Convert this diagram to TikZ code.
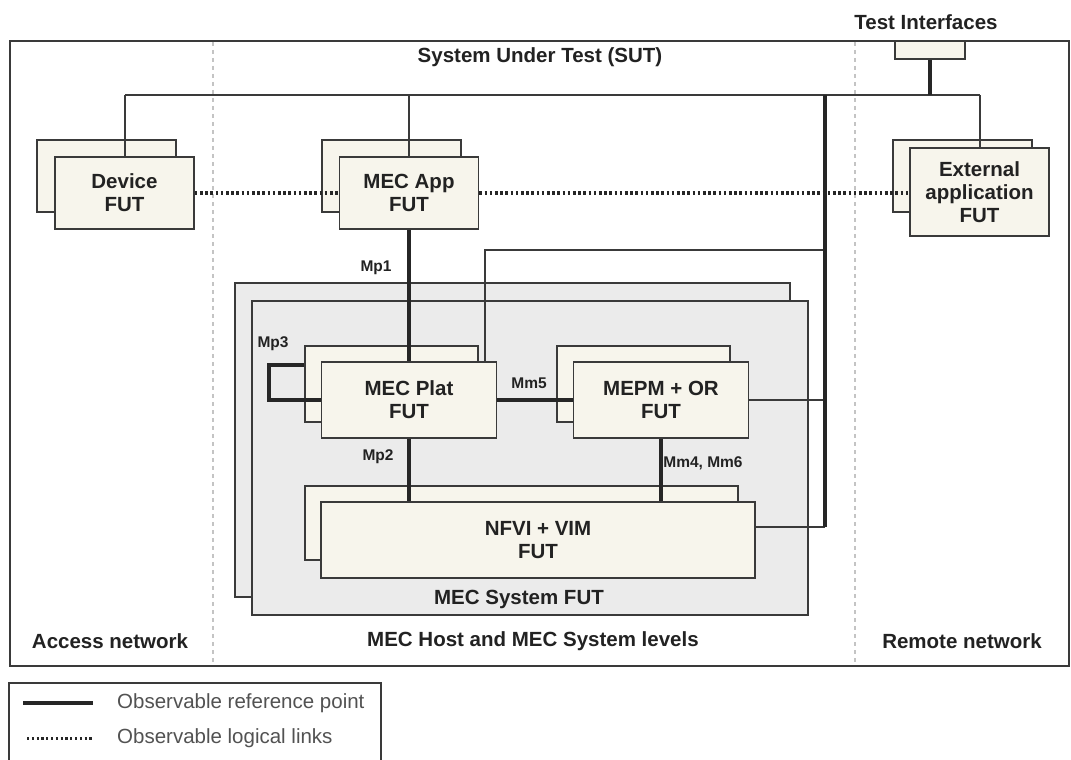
\documentclass[tikz,border=0pt]{standalone}
\usepackage{fontspec}
\setmainfont{Liberation Sans}
\definecolor{ln}{HTML}{3A3A3A}
\definecolor{cream}{HTML}{F7F5EC}
\definecolor{sysgray}{HTML}{EBEBEB}
\definecolor{dashgray}{HTML}{C4C4C4}
\definecolor{txt}{HTML}{222222}
\begin{document}
\begin{tikzpicture}[x=1pt,y=-1pt,
  box/.style={draw=ln,line width=1.7pt,fill=cream,inner sep=0pt,align=center,text=txt,font=\fontsize{20.5}{23}\selectfont\bfseries},
  sysbox/.style={draw=ln,line width=1.7pt,fill=sysgray,inner sep=0pt},
  thin/.style={draw=ln,line width=1.7pt},
  thick/.style={draw=black!85,line width=3.2pt},
  dotline/.style={draw=black!85,line width=3.4pt,dash pattern=on 2.6pt off 2.6pt},
  sep/.style={draw=dashgray,line width=1.5pt,dash pattern=on 4pt off 4pt},
  lbl/.style={text=txt,font=\fontsize{20.5}{23}\selectfont\bfseries,inner sep=0pt},
  small/.style={text=txt,font=\fontsize{15.5}{18}\selectfont\bfseries,inner sep=0pt},
  leg/.style={text=black!68,font=\fontsize{20.5}{23}\selectfont,inner sep=0pt,anchor=west}]
\useasboundingbox (0,0) rectangle (1071,760);
\fill[white] (0,0) rectangle (1071,760);
% outer SUT box
\node[draw=ln,line width=1.7pt,minimum width=1059pt,minimum height=625pt,inner sep=0pt] (sut) at (539.5,353.5) {};
\draw[sep] (213,42) -- (213,665);
\draw[sep] (855,42) -- (855,665);
\node[lbl] (sutlbl) at (540,57) {System Under Test (SUT)};
\node[lbl] (tilbl) at (926,22) {Test Interfaces};
\node[box,minimum width=70pt,minimum height=18pt] (ti) at (930,50) {};
% bus
\coordinate (busL) at (125,95);
\coordinate (busR) at (980,95);
\coordinate (busV) at (825,95);
\coordinate (nv) at (825,527);
\coordinate (up) at (825,250);
% Device
\node[box,minimum width=139pt,minimum height=72pt] (devb) at (106.5,176) {};
\node[box,minimum width=139pt,minimum height=72pt] (devf) at (124.5,193) {Device\\FUT};
% MEC App
\node[box,minimum width=139pt,minimum height=72pt] (appb) at (391.5,176) {};
\node[box,minimum width=139pt,minimum height=72pt] (appf) at (409,193) {MEC App\\FUT};
% External
\node[box,minimum width=139pt,minimum height=72pt] (extb) at (962.5,176) {};
\node[box,minimum width=139pt,minimum height=88pt] (extf) at (979.5,192) {External\\application\\FUT};
% bus lines
\draw[thin] (busL) -- (busR);
\draw[thin] (busL) -- (devf.north -| busL);
\draw[thin] (appf.north) -- (appf.north |- busL);
\draw[thin] (busR) -- (extf.north -| busR);
\draw[thick] (ti.south) -- (ti.south |- busR);
% dotted logical links
\draw[dotline] (devf.east |- 0,193) -- (appf.west |- 0,193);
\draw[dotline] (appf.east |- 0,193) -- (extf.west |- 0,193);
% MEC System
\node[sysbox,minimum width=555pt,minimum height=314pt] (sysb) at (512.5,440) {};
\node[sysbox,minimum width=556pt,minimum height=314pt] (sysf) at (530,458) {};
\node[lbl] (syslbl) at (519,599) {MEC System FUT};
% MEC Plat
\node[box,minimum width=173pt,minimum height=76pt] (platb) at (391.5,384) {};
\node[box,minimum width=175pt,minimum height=76pt] (platf) at (409,400) {MEC Plat\\FUT};
% MEPM
\node[box,minimum width=173pt,minimum height=76pt] (mepmb) at (643.5,384) {};
\node[box,minimum width=175pt,minimum height=76pt] (mepmf) at (661,400) {MEPM + OR\\FUT};
% NFVI
\node[box,minimum width=433pt,minimum height=74pt] (nfvib) at (521.5,523) {};
\node[box,minimum width=434pt,minimum height=76pt] (nfvif) at (538,540) {NFVI + VIM\\FUT};
% connectors
\draw[thick] (appf.south) -- (appf.south |- platf.north);
\draw[thick] (platf.south) -- (platf.south |- nfvif.north);
\draw[thick] (mepmf.south) -- (mepmf.south |- nfvif.north);
\draw[thick] (platf.east) -- (mepmf.west);
\coordinate (mp3a) at (269,365);
\coordinate (mp3b) at (269,400);
\draw[thick,line join=miter] (platb.west |- mp3a) -- (mp3a) -- (mp3b) -- (platf.west);
\draw[thin] (mepmf.east) -- (mepmf.east -| busV);
\draw[thin] (nfvif.east |- nv) -- (nv);
\draw[thin] (platf.north -| 485,0) -- (485,250) -- (up);
\draw[thick] (busV) -- (nv);
% small labels
\node[small] (mp1) at (376,268) {Mp1};
\node[small] (mp3) at (273,344) {Mp3};
\node[small] (mm5) at (529,383) {Mm5};
\node[small] (mp2) at (378,457) {Mp2};
\node[small] (mm46) at (703,463) {Mm4, Mm6};
% bottom labels
\node[lbl] (acc) at (110,641) {Access network};
\node[lbl] (host) at (533,641) {MEC Host and MEC System levels};
\node[lbl] (rem) at (962,641) {Remote network};
% legend
\node[draw=ln,line width=1.7pt,minimum width=372pt,minimum height=90pt,inner sep=0pt] (legend) at (195,728) {};
\coordinate (l1a) at (23,703);
\coordinate (l1b) at (93,703);
\coordinate (l2a) at (27,738);
\coordinate (l2b) at (93,738);
\draw[thick] (l1a) -- (l1b);
\draw[dotline,line width=3pt,dash pattern=on 2.2pt off 2.6pt] (l2a) -- (l2b);
\node[leg] (leg1) at (117,703) {Observable reference point};
\node[leg] (leg2) at (117,738) {Observable logical links};
\end{tikzpicture}
\end{document}
